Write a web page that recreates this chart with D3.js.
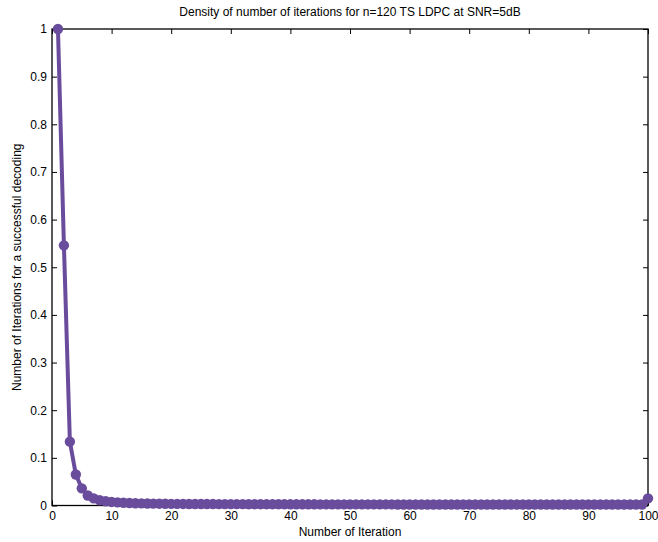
<!DOCTYPE html>
<html><head><meta charset="utf-8">
<script src="https://cdn.jsdelivr.net/npm/d3@7"></script>
<style>body{margin:0;background:#fff}svg{display:block}text{font-family:"Liberation Sans",Arial,sans-serif}</style>
</head><body>
<svg id="c" width="658" height="542"></svg>
<script>
const titleText = "Density of number of iterations for n=120 TS LDPC at SNR=5dB";
const xLabel = "Number of Iteration";
const yLabel = "Number of Iterations for a successful decoding";
const xTicks = [0,10,20,30,40,50,60,70,80,90,100];
const yTicks = [0,0.1,0.2,0.3,0.4,0.5,0.6,0.7,0.8,0.9,1];
const iterations = [1,2,3,4,5,6,7,8,9,10,11,12,13,14,15,16,17,18,19,20,21,22,23,24,25,26,27,28,29,30,31,32,33,34,35,36,37,38,39,40,41,42,43,44,45,46,47,48,49,50,51,52,53,54,55,56,57,58,59,60,61,62,63,64,65,66,67,68,69,70,71,72,73,74,75,76,77,78,79,80,81,82,83,84,85,86,87,88,89,90,91,92,93,94,95,96,97,98,99,100];
const density = [1,0.546,0.134,0.065,0.036,0.021,0.015,0.011,0.009,0.0075,
0.0065,0.0058,0.0052,0.0048,0.0045,0.0042,0.004,0.0038,0.0036,0.0035,
0.0034,0.0033,0.0032,0.0031,0.0031,0.003,0.003,0.0029,0.0029,0.0028,
0.0028,0.0028,0.0027,0.0027,0.0027,0.0026,0.0026,0.0026,0.0026,0.0025,
0.0025,0.0025,0.0025,0.0025,0.0024,0.0024,0.0024,0.0024,0.0024,0.0024,
0.0023,0.0023,0.0023,0.0023,0.0023,0.0023,0.0023,0.0022,0.0022,0.0022,
0.0022,0.0022,0.0022,0.0022,0.0022,0.0022,0.0021,0.0021,0.0021,0.0021,
0.0021,0.0021,0.0021,0.0021,0.0021,0.0021,0.0021,0.002,0.002,0.002,
0.002,0.002,0.002,0.002,0.002,0.002,0.002,0.002,0.002,0.002,
0.002,0.002,0.002,0.002,0.002,0.002,0.002,0.002,0.002,0.015];

const color = "#6a4c9c";
const svg = d3.select("#c");
const L=52,R=648,T=29,B=505.5;
const x = d3.scaleLinear().domain([0,100]).range([L,R]);
const y = d3.scaleLinear().domain([0,1]).range([B,T]);

svg.append("rect").attr("x",L).attr("y",T).attr("width",R-L).attr("height",B-T).attr("fill","none").attr("stroke","#000").attr("stroke-width",1.3);

const ax = d3.axisBottom(x).tickValues(xTicks).tickSize(-5).tickPadding(6).tickFormat(d3.format("d"));
svg.append("g").attr("transform",`translate(0,${B})`).call(ax);
const axT = d3.axisTop(x).tickValues(xTicks).tickSize(-5).tickFormat("");
svg.append("g").attr("transform",`translate(0,${T})`).call(axT);
const ay = d3.axisLeft(y).tickValues(yTicks).tickSize(-5).tickPadding(5).tickFormat(d=>d===0?"0":d===1?"1":d3.format(".1f")(d));
svg.append("g").attr("transform",`translate(${L},0)`).call(ay);
const ayR = d3.axisRight(y).tickValues(yTicks).tickSize(-5).tickFormat("");
svg.append("g").attr("transform",`translate(${R},0)`).call(ayR);
svg.selectAll(".domain").remove();
svg.selectAll(".tick line").attr("stroke","#000");
svg.selectAll(".tick text").attr("font-size",12).attr("fill","#000").style("font-family","'Liberation Sans',Arial,sans-serif");

const data = iterations.map((d,i)=>({x:d,y:density[i]}));
svg.append("path").datum(data).attr("fill","none").attr("stroke",color).attr("stroke-width",4).attr("stroke-linejoin","round")
  .attr("d",d3.line().x(d=>x(d.x)).y(d=>y(d.y)));
svg.append("g").selectAll("circle").data(data).join("circle").attr("cx",d=>x(d.x)).attr("cy",d=>y(d.y)).attr("r",5.2).attr("fill",color);

svg.append("text").attr("x",(L+R)/2).attr("y",16).attr("text-anchor","middle").attr("font-size",12).text(titleText);
svg.append("text").attr("x",(L+R)/2).attr("y",536).attr("text-anchor","middle").attr("font-size",12).text(xLabel);
svg.append("text").attr("transform",`translate(21,${(T+B)/2}) rotate(-90)`).attr("text-anchor","middle").attr("font-size",12).text(yLabel);
</script>
</body></html>
